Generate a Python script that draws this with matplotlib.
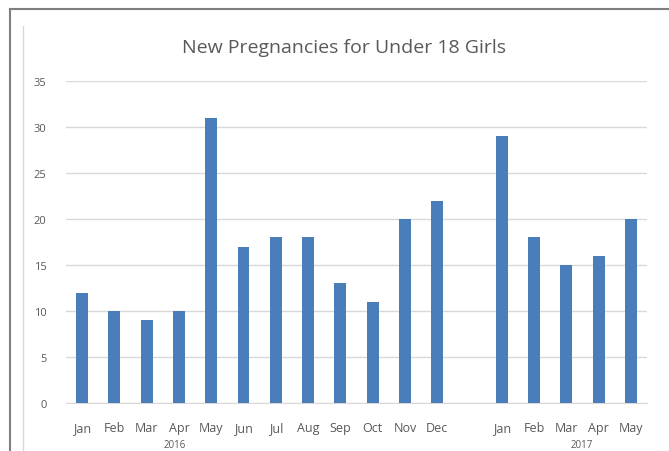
import matplotlib
matplotlib.use('Agg')
import matplotlib.pyplot as plt
from matplotlib.lines import Line2D

months = ['Jan', 'Feb', 'Mar', 'Apr', 'May', 'Jun', 'Jul', 'Aug', 'Sep', 'Oct', 'Nov', 'Dec',
          '', 'Jan', 'Feb', 'Mar', 'Apr', 'May']
counts = [12, 10, 9, 10, 31, 17, 18, 18, 13, 11, 20, 22,
          None, 29, 18, 15, 16, 20]
years = ['2016', '2017']
yticks = [0, 5, 10, 15, 20, 25, 30, 35]

W, H = 669, 452
fig = plt.figure(figsize=(W / 100, H / 100), dpi=100)
fig.patch.set_facecolor('white')

# plot area in pixel coords
left, right, top, bottom = 66, 647, 82, 404
ax = fig.add_axes([left / W, 1 - bottom / H, (right - left) / W, (bottom - top) / H])

xs = [i for i, v in enumerate(counts) if v is not None]
vals = [v for v in counts if v is not None]
ax.bar(xs, vals, width=0.37, color='#4a7ebb', zorder=3)

ax.set_xlim(-0.5, len(months) - 0.5)
ax.set_ylim(0, 35)
ax.set_yticks(yticks)
ax.yaxis.grid(True, color='#d9d9d9', linewidth=1, zorder=0)
ax.set_xticks(range(len(months)))
ax.set_xticklabels(months)
ax.tick_params(axis='x', length=0, pad=13, labelsize=9, labelcolor='#595959')
ax.tick_params(axis='y', length=0, pad=14, labelsize=8, labelcolor='#595959')
for s in ['top', 'right', 'left']:
    ax.spines[s].set_visible(False)
ax.spines['bottom'].set_color('#d9d9d9')
for lbl in ax.get_xticklabels() + ax.get_yticklabels():
    lbl.set_family('Open Sans')

# year group labels
fig.text(175 / W, 1 - 446 / H, years[0], ha='center', va='center', fontsize=7,
         color='#595959', family='Open Sans')
fig.text(582 / W, 1 - 446 / H, years[1], ha='center', va='center', fontsize=7,
         color='#595959', family='Open Sans')

fig.text(344 / W, 1 - 48 / H, 'New Pregnancies for Under 18 Girls', ha='center', va='center',
         fontsize=14, color='#595959', family='Open Sans')

# chart frame lines
fig.add_artist(Line2D([10 / W, 10 / W], [0, 1 - 10 / H], color='#7f7f7f', linewidth=1.5))
fig.add_artist(Line2D([10 / W, 1], [1 - 10 / H, 1 - 10 / H], color='#7f7f7f', linewidth=1.5))
fig.add_artist(Line2D([23 / W, 23 / W], [0, 1 - 27 / H], color='#d9d9d9', linewidth=1))

fig.savefig('out.png', dpi=100)
